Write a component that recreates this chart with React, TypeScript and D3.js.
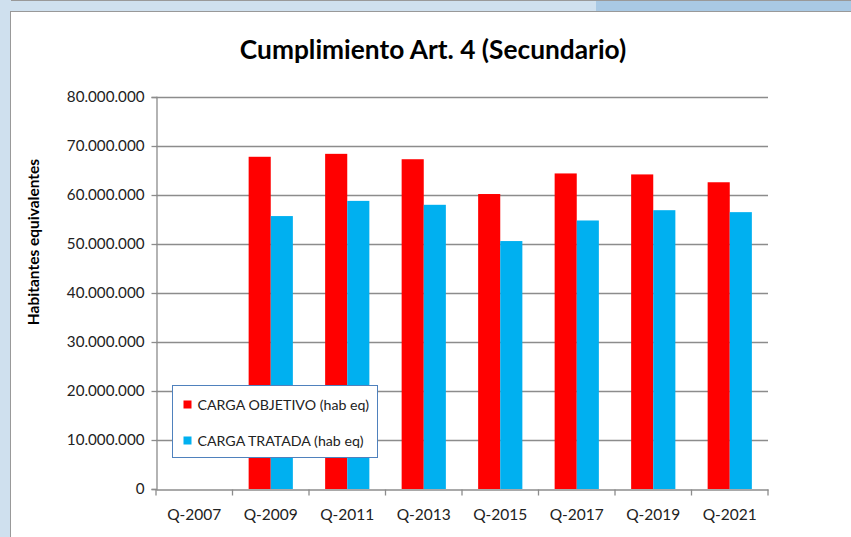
import React, { useRef, useEffect } from 'react';
import * as d3 from 'd3';

const categories = ['Q-2007', 'Q-2009', 'Q-2011', 'Q-2013', 'Q-2015', 'Q-2017', 'Q-2019', 'Q-2021'];
const cargaObjetivo = [0, 67800000, 68400000, 67300000, 60200000, 64400000, 64200000, 62600000];
const cargaTratada = [0, 55700000, 58800000, 58000000, 50600000, 54800000, 56900000, 56500000];
const seriesNames = ['CARGA OBJETIVO (hab eq)', 'CARGA TRATADA (hab eq)'];
const seriesColors = ['#FF0000', '#00B0F0'];
const yTicks = [0, 10000000, 20000000, 30000000, 40000000, 50000000, 60000000, 70000000, 80000000];

const W = 851;
const H = 537;
const FONT = 'Lato, "Open Sans", sans-serif';

function fmt(v: number) {
    if (v === 0) return '0';
    return d3.format(',')(v).replace(/,/g, '.');
}

function App() {
    const svgRef = useRef<SVGSVGElement>(null);

    useEffect(() => {
        const svg = d3.select(svgRef.current);
        svg.selectAll('*').remove();

        // window frame
        svg.append('rect').attr('width', W).attr('height', H).attr('fill', '#ffffff');
        svg.append('rect').attr('x', 0).attr('y', 0).attr('width', W).attr('height', 11).attr('fill', '#cfe0ee');
        svg.append('rect').attr('x', 596).attr('y', 0).attr('width', W - 596).attr('height', 11).attr('fill', '#a9c9e4');
        svg.append('rect').attr('x', 0).attr('y', 0).attr('width', 10).attr('height', H).attr('fill', '#cfe0ee');
        svg.append('line').attr('x1', 11).attr('x2', W).attr('y1', 0.5).attr('y2', 0.5).attr('stroke', '#999');
        svg.append('line').attr('x1', 10).attr('x2', W).attr('y1', 11.5).attr('y2', 11.5).attr('stroke', '#999');
        svg.append('line').attr('x1', 10.5).attr('x2', 10.5).attr('y1', 11).attr('y2', H).attr('stroke', '#999');

        const margin = { left: 156, right: 83, top: 97, bottom: 48 };
        const x0 = d3.scaleBand().domain(categories).range([margin.left, W - margin.right]).padding(0);
        const x1 = d3.scaleBand().domain(seriesNames).range([0, x0.bandwidth()]).paddingInner(0).paddingOuter(0.73);
        const y = d3.scaleLinear().domain([0, 80000000]).range([H - margin.bottom, margin.top]);

        const g = svg.append('g');

        // gridlines
        g.selectAll('.grid')
            .data(yTicks.slice(1))
            .join('line')
            .attr('x1', margin.left)
            .attr('x2', W - margin.right)
            .attr('y1', d => Math.round(y(d)) + 0.5)
            .attr('y2', d => Math.round(y(d)) + 0.5)
            .attr('stroke', '#8c8c8c')
            .attr('stroke-width', 1.3);

        // bars
        const data = categories.map((c, i) => ({ c, vals: [cargaObjetivo[i], cargaTratada[i]] }));
        const groups = g.selectAll('.cat')
            .data(data)
            .join('g')
            .attr('transform', d => `translate(${x0(d.c)},0)`);
        groups.selectAll('rect')
            .data(d => d.vals.map((v, k) => ({ v, k })))
            .join('rect')
            .attr('x', d => x1(seriesNames[d.k]) as number)
            .attr('width', x1.bandwidth())
            .attr('y', d => y(d.v))
            .attr('height', d => y(0) - y(d.v))
            .attr('fill', d => seriesColors[d.k]);

        // y axis
        const yAxis = g.append('g')
            .attr('transform', `translate(${margin.left + 0.5},0)`)
            .call(d3.axisLeft(y).tickValues(yTicks).tickSize(5).tickPadding(7).tickFormat(d => fmt(+d)));
        yAxis.select('.domain').attr('stroke', '#8c8c8c').attr('stroke-width', 1.3);
        yAxis.selectAll('.tick line').attr('stroke', '#8c8c8c').attr('stroke-width', 1.3);
        yAxis.selectAll('.tick text')
            .attr('font-family', FONT)
            .attr('font-size', 15.2)
            .attr('fill', '#222');

        // x axis
        const xAxis = g.append('g')
            .attr('transform', `translate(0,${Math.round(y(0)) + 0.5})`)
            .call(d3.axisBottom(x0).tickSize(0).tickPadding(19));
        xAxis.select('.domain').attr('stroke', '#8c8c8c').attr('stroke-width', 1.3);
        xAxis.selectAll('.tick text')
            .attr('font-family', FONT)
            .attr('font-size', 15.5)
            .attr('fill', '#222');
        xAxis.selectAll('.sep')
            .data(d3.range(categories.length + 1))
            .join('line')
            .attr('x1', i => margin.left + i * x0.step())
            .attr('x2', i => margin.left + i * x0.step())
            .attr('y1', 0)
            .attr('y2', 6)
            .attr('stroke', '#8c8c8c')
            .attr('stroke-width', 1.3);

        // title
        svg.append('text')
            .attr('x', 433)
            .attr('y', 59)
            .attr('text-anchor', 'middle')
            .attr('font-family', FONT)
            .attr('font-weight', 'bold')
            .attr('font-size', 26.3)
            .attr('fill', '#000')
            .text('Cumplimiento Art. 4 (Secundario)');

        // y label
        svg.append('text')
            .attr('transform', `translate(39,242) rotate(-90)`)
            .attr('text-anchor', 'middle')
            .attr('font-family', FONT)
            .attr('font-weight', 'bold')
            .attr('font-size', 15.5)
            .attr('fill', '#000')
            .text('Habitantes equivalentes');

        // legend
        const lg = svg.append('g').attr('transform', 'translate(172.5,385.5)');
        lg.append('rect')
            .attr('width', 205)
            .attr('height', 72)
            .attr('fill', '#ffffff')
            .attr('stroke', '#4f81bd')
            .attr('stroke-width', 1);
        const items = lg.selectAll('.item')
            .data(seriesNames)
            .join('g')
            .attr('transform', (d, i) => `translate(11,${15 + i * 36})`);
        items.append('rect')
            .attr('width', 8)
            .attr('height', 8)
            .attr('fill', (d, i) => seriesColors[i]);
        items.append('text')
            .attr('x', 14)
            .attr('y', 9.5)
            .attr('font-family', FONT)
            .attr('font-size', 14.2)
            .attr('fill', '#222')
            .text(d => d);
    }, []);

    return (
        <svg
            ref={svgRef}
            width={W}
            height={H}
            style={{ position: 'absolute', left: 0, top: 0, display: 'block' }}
        ></svg>
    );
}

export default App;
